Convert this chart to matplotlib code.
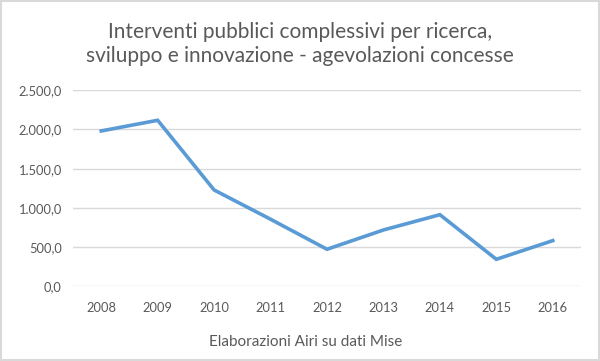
import matplotlib
matplotlib.use("Agg")
import matplotlib.pyplot as plt
from matplotlib.patches import Rectangle
from matplotlib.ticker import FuncFormatter

# Data
years = ['2008', '2009', '2010', '2011', '2012', '2013', '2014', '2015', '2016']
values = [1981, 2117, 1228, 855, 472, 718, 913, 344, 582]
y_ticks = [0, 500, 1000, 1500, 2000, 2500]

plt.rcParams['font.family'] = ['Lato', 'DejaVu Sans']

fig = plt.figure(figsize=(6, 3.61), dpi=100)
ax = fig.add_axes([0.1217, 0.207, 0.9683 - 0.1217, 0.750 - 0.207])

ax.plot(range(len(years)), values, color='#5B9BD5', linewidth=2.6,
        solid_joinstyle='miter', zorder=3)

ax.set_xlim(-0.5, len(years) - 0.5)
ax.set_ylim(0, 2500)
ax.set_yticks(y_ticks)
ax.set_xticks(range(len(years)))
ax.set_xticklabels(years)


def it_fmt(v, pos):
    s = f"{v:,.1f}"
    return s.replace(",", "X").replace(".", ",").replace("X", ".")


ax.yaxis.set_major_formatter(FuncFormatter(it_fmt))
ax.grid(axis='y', color='#D9D9D9', linewidth=1)
ax.set_axisbelow(True)
for s in ax.spines.values():
    s.set_visible(False)
ax.tick_params(length=0, labelsize=9.3, labelcolor='#595959')
ax.tick_params(axis='x', pad=11)
ax.tick_params(axis='y', pad=8)

fig.text(0.5, 0.878, "Interventi pubblici complessivi per ricerca,\nsviluppo e innovazione - agevolazioni concesse",
         ha='center', va='center', fontsize=15, color='#595959', linespacing=1.22)
fig.text(0.51, 0.053, "Elaborazioni Airi su dati Mise", ha='center', va='center',
         fontsize=11, color='#595959')

fig.patches.append(Rectangle((0.002, 0.003), 0.996, 0.994, transform=fig.transFigure,
                             fill=False, edgecolor='#D9D9D9', linewidth=1.5))

fig.savefig("out.png", dpi=100)
